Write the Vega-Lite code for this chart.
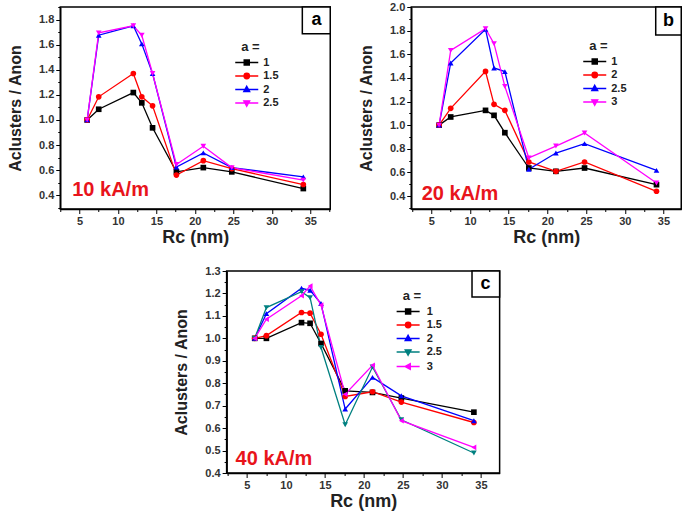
{
  "$schema": "https://vega.github.io/schema/vega-lite/v6.json",
  "padding": {"left": 6, "top": 0, "right": 0, "bottom": 0},
  "background": "white",
  "center": true,
  "spacing": 16,
  "config": {
    "view": {"stroke": "black", "strokeWidth": 1.5},
    "axis": {"grid": false, "domainColor": "black", "domainWidth": 1.5, "tickColor": "black", "tickWidth": 1, "tickSize": 4,
      "labelFont": "Liberation Sans", "labelFontWeight": "bold", "labelFontSize": 11, "labelColor": "#333", "labelOverlap": false,
      "titleFont": "Liberation Sans", "titleFontWeight": "bold", "titleColor": "#222"},
    "legend": {"labelFont": "Liberation Sans", "labelFontWeight": "bold", "labelFontSize": 11, "labelColor": "#222",
      "titleFont": "Liberation Sans", "titleFontWeight": "bold", "titleFontSize": 13, "titleColor": "#222", "padding": 0, "rowPadding": 1.5, "titlePadding": 3,
      "symbolSize": 30, "symbolStrokeWidth": 1.3, "symbolOpacity": 1}
  },
  "resolve": {"scale": {"x": "independent", "y": "independent", "stroke": "independent", "fill": "independent", "shape": "independent"}},
  "vconcat": [
    {
      "hconcat": [
        {
          "width": 270, "height": 202,
          "data": {"values": [
            {"Rc": 6, "r": 1.0, "a": "1"}, {"Rc": 7.5, "r": 1.085, "a": "1"}, {"Rc": 12, "r": 1.218, "a": "1"}, {"Rc": 13.1, "r": 1.136, "a": "1"}, {"Rc": 14.5, "r": 0.937, "a": "1"}, {"Rc": 17.6, "r": 0.586, "a": "1"}, {"Rc": 21.1, "r": 0.62, "a": "1"}, {"Rc": 24.8, "r": 0.586, "a": "1"}, {"Rc": 34.1, "r": 0.453, "a": "1"},
            {"Rc": 6, "r": 1.0, "a": "1.5"}, {"Rc": 7.5, "r": 1.184, "a": "1.5"}, {"Rc": 12, "r": 1.37, "a": "1.5"}, {"Rc": 13.1, "r": 1.184, "a": "1.5"}, {"Rc": 14.5, "r": 1.112, "a": "1.5"}, {"Rc": 17.6, "r": 0.56, "a": "1.5"}, {"Rc": 21.1, "r": 0.675, "a": "1.5"}, {"Rc": 24.8, "r": 0.612, "a": "1.5"}, {"Rc": 34.1, "r": 0.485, "a": "1.5"},
            {"Rc": 6, "r": 1.0, "a": "2"}, {"Rc": 7.5, "r": 1.675, "a": "2"}, {"Rc": 12, "r": 1.75, "a": "2"}, {"Rc": 13.1, "r": 1.606, "a": "2"}, {"Rc": 14.5, "r": 1.37, "a": "2"}, {"Rc": 17.6, "r": 0.625, "a": "2"}, {"Rc": 21.1, "r": 0.737, "a": "2"}, {"Rc": 24.8, "r": 0.62, "a": "2"}, {"Rc": 34.1, "r": 0.546, "a": "2"},
            {"Rc": 6, "r": 1.0, "a": "2.5"}, {"Rc": 7.5, "r": 1.694, "a": "2.5"}, {"Rc": 12, "r": 1.75, "a": "2.5"}, {"Rc": 13.1, "r": 1.675, "a": "2.5"}, {"Rc": 14.5, "r": 1.37, "a": "2.5"}, {"Rc": 17.6, "r": 0.645, "a": "2.5"}, {"Rc": 21.1, "r": 0.79, "a": "2.5"}, {"Rc": 24.8, "r": 0.62, "a": "2.5"}, {"Rc": 34.1, "r": 0.52, "a": "2.5"}
          ]},
          "resolve": {"axis": {"x": "independent", "y": "independent"}, "scale": {"stroke": "independent", "fill": "independent", "shape": "independent"}, "legend": {"stroke": "independent", "fill": "independent", "shape": "independent"}},
          "layer": [
            {
              "mark": {"type": "line", "strokeWidth": 1.3},
              "encoding": {
                "x": {"field": "Rc", "type": "quantitative", "scale": {"domain": [2.5, 37.6], "nice": false, "zero": false},
                  "axis": {"orient": "bottom", "values": [2.5, 5, 7.5, 10, 12.5, 15, 17.5, 20, 22.5, 25, 27.5, 30, 32.5, 35, 37.5], "labelExpr": "datum.value % 5 == 0 ? format(datum.value, 'd') : ''",
                    "tickSize": {"condition": {"test": "datum.value % 5 != 0", "value": 2.5}, "value": 4.5}, "title": "Rc (nm)", "titleFontSize": 18, "titlePadding": 2}},
                "y": {"field": "r", "type": "quantitative", "scale": {"domain": [0.29, 1.9], "nice": false, "zero": false},
                  "axis": {"orient": "left", "values": [0.3, 0.4, 0.5, 0.6, 0.7, 0.8, 0.9, 1.0, 1.1, 1.2, 1.3, 1.4, 1.5, 1.6, 1.7, 1.8, 1.9], "labelExpr": "round(datum.value*10) % 2 == 0 ? format(datum.value, '.1f') : ''",
                    "tickSize": {"condition": {"test": "round(datum.value*10) % 2 == 1", "value": 2.5}, "value": 4.5}, "title": "Aclusters / Anon", "titleFontSize": 16, "titlePadding": 15}},
                "stroke": {"field": "a", "type": "nominal", "scale": {"domain": ["1", "1.5", "2", "2.5"], "range": ["#000000", "#ff0000", "#0000ff", "#ff00ff"]}, "legend": null}
              }
            },
            {
              "mark": {"type": "point", "filled": true, "size": 32, "opacity": 1},
              "encoding": {
                "x": {"field": "Rc", "type": "quantitative", "axis": null},
                "y": {"field": "r", "type": "quantitative", "axis": null},
                "fill": {"field": "a", "type": "nominal", "scale": {"domain": ["1", "1.5", "2", "2.5"], "range": ["#000000", "#ff0000", "#0000ff", "#ff00ff"]}, "legend": null},
                "shape": {"field": "a", "type": "nominal", "scale": {"domain": ["1", "1.5", "2", "2.5"], "range": ["square", "circle", "triangle-up", "triangle-down"]}, "legend": null}
              }
            },
            {
              "data": {"values": []},
              "mark": {"type": "point", "filled": true, "opacity": 1},
              "encoding": {
                "x": {"field": "Rc", "type": "quantitative", "axis": null},
                "y": {"field": "r", "type": "quantitative", "axis": null},
                "fill": {"field": "a", "type": "nominal", "scale": {"domain": ["1", "1.5", "2", "2.5"], "range": ["#000000", "#ff0000", "#0000ff", "#ff00ff"]},
                  "legend": {"title": "a =", "orient": "none", "legendX": 181, "legendY": 34, "labelOffset": 11}},
                "stroke": {"field": "a", "type": "nominal", "scale": {"domain": ["1", "1.5", "2", "2.5"], "range": ["#000000", "#ff0000", "#0000ff", "#ff00ff"]},
                  "legend": {"title": "a =", "orient": "none", "legendX": 181, "legendY": 34, "labelOffset": 11}},
                "shape": {"field": "a", "type": "nominal", "scale": {"domain": ["1", "1.5", "2", "2.5"], "range": ["M-4.2,0H4.2M-0.95,-0.95H0.95V0.95H-0.95Z", "M-4.2,0H4.2M1,0A1,1,0,1,1,-1,0A1,1,0,1,1,1,0Z", "M-4.2,0H4.2M0,-1.2L1.1,0.8H-1.1Z", "M-4.2,0H4.2M0,1.2L1.1,-0.8H-1.1Z"]},
                  "legend": {"title": "a =", "orient": "none", "legendX": 181, "legendY": 34, "labelOffset": 11}}
              }
            },
            {
              "data": {"values": [{}]},
              "mark": {"type": "rect", "fill": "white", "stroke": "black", "strokeWidth": 1.5},
              "encoding": {"x": {"datum": 33.97, "axis": null}, "x2": {"datum": 37.6}, "y": {"datum": 1.9, "axis": null}, "y2": {"datum": 1.686}}
            },
            {
              "data": {"values": [{}]},
              "mark": {"type": "text", "text": "a", "font": "Liberation Sans", "fontWeight": "bold", "fontSize": 18, "align": "center", "baseline": "middle", "color": "black"},
              "encoding": {"x": {"datum": 35.8, "axis": null}, "y": {"datum": 1.794, "axis": null}}
            },
            {
              "data": {"values": [{}]},
              "mark": {"type": "text", "text": "10 kA/m", "font": "Liberation Sans", "fontWeight": "bold", "fontSize": 20, "align": "left", "baseline": "middle", "color": "#e8141b"},
              "encoding": {"x": {"datum": 4.06, "axis": null}, "y": {"datum": 0.442, "axis": null}}
            }
          ]
        },
        {
          "width": 270, "height": 202,
          "data": {"values": [
            {"Rc": 6, "r": 1.0, "a": "1"}, {"Rc": 7.5, "r": 1.069, "a": "1"}, {"Rc": 12, "r": 1.125, "a": "1"}, {"Rc": 13.1, "r": 1.083, "a": "1"}, {"Rc": 14.5, "r": 0.936, "a": "1"}, {"Rc": 17.6, "r": 0.637, "a": "1"}, {"Rc": 21.1, "r": 0.609, "a": "1"}, {"Rc": 24.8, "r": 0.637, "a": "1"}, {"Rc": 34.1, "r": 0.496, "a": "1"},
            {"Rc": 6, "r": 1.0, "a": "2"}, {"Rc": 7.5, "r": 1.142, "a": "2"}, {"Rc": 12, "r": 1.455, "a": "2"}, {"Rc": 13.1, "r": 1.176, "a": "2"}, {"Rc": 14.5, "r": 1.125, "a": "2"}, {"Rc": 17.6, "r": 0.688, "a": "2"}, {"Rc": 21.1, "r": 0.609, "a": "2"}, {"Rc": 24.8, "r": 0.688, "a": "2"}, {"Rc": 34.1, "r": 0.44, "a": "2"},
            {"Rc": 6, "r": 1.0, "a": "2.5"}, {"Rc": 7.5, "r": 1.526, "a": "2.5"}, {"Rc": 12, "r": 1.811, "a": "2.5"}, {"Rc": 13.1, "r": 1.484, "a": "2.5"}, {"Rc": 14.5, "r": 1.453, "a": "2.5"}, {"Rc": 17.6, "r": 0.626, "a": "2.5"}, {"Rc": 21.1, "r": 0.764, "a": "2.5"}, {"Rc": 24.8, "r": 0.843, "a": "2.5"}, {"Rc": 34.1, "r": 0.617, "a": "2.5"},
            {"Rc": 6, "r": 1.0, "a": "3"}, {"Rc": 7.5, "r": 1.633, "a": "3"}, {"Rc": 12, "r": 1.817, "a": "3"}, {"Rc": 13.1, "r": 1.69, "a": "3"}, {"Rc": 14.5, "r": 1.328, "a": "3"}, {"Rc": 17.6, "r": 0.722, "a": "3"}, {"Rc": 21.1, "r": 0.823, "a": "3"}, {"Rc": 24.8, "r": 0.933, "a": "3"}, {"Rc": 34.1, "r": 0.51, "a": "3"}
          ]},
          "resolve": {"axis": {"x": "independent", "y": "independent"}, "scale": {"stroke": "independent", "fill": "independent", "shape": "independent"}, "legend": {"stroke": "independent", "fill": "independent", "shape": "independent"}},
          "layer": [
            {
              "mark": {"type": "line", "strokeWidth": 1.3},
              "encoding": {
                "x": {"field": "Rc", "type": "quantitative", "scale": {"domain": [2.4, 37.3], "nice": false, "zero": false},
                  "axis": {"orient": "bottom", "values": [2.5, 5, 7.5, 10, 12.5, 15, 17.5, 20, 22.5, 25, 27.5, 30, 32.5, 35], "labelExpr": "datum.value % 5 == 0 ? format(datum.value, 'd') : ''",
                    "tickSize": {"condition": {"test": "datum.value % 5 != 0", "value": 2.5}, "value": 4.5}, "title": "Rc (nm)", "titleFontSize": 18, "titlePadding": 2}},
                "y": {"field": "r", "type": "quantitative", "scale": {"domain": [0.29, 2.0], "nice": false, "zero": false},
                  "axis": {"orient": "left", "values": [0.3, 0.4, 0.5, 0.6, 0.7, 0.8, 0.9, 1.0, 1.1, 1.2, 1.3, 1.4, 1.5, 1.6, 1.7, 1.8, 1.9, 2.0], "labelExpr": "round(datum.value*10) % 2 == 0 ? format(datum.value, '.1f') : ''",
                    "tickSize": {"condition": {"test": "round(datum.value*10) % 2 == 1", "value": 2.5}, "value": 4.5}, "title": "Aclusters / Anon", "titleFontSize": 16, "titlePadding": 15}},
                "stroke": {"field": "a", "type": "nominal", "scale": {"domain": ["1", "2", "2.5", "3"], "range": ["#000000", "#ff0000", "#0000ff", "#ff00ff"]}, "legend": null}
              }
            },
            {
              "mark": {"type": "point", "filled": true, "size": 32, "opacity": 1},
              "encoding": {
                "x": {"field": "Rc", "type": "quantitative", "axis": null},
                "y": {"field": "r", "type": "quantitative", "axis": null},
                "fill": {"field": "a", "type": "nominal", "scale": {"domain": ["1", "2", "2.5", "3"], "range": ["#000000", "#ff0000", "#0000ff", "#ff00ff"]}, "legend": null},
                "shape": {"field": "a", "type": "nominal", "scale": {"domain": ["1", "2", "2.5", "3"], "range": ["square", "circle", "triangle-up", "triangle-down"]}, "legend": null}
              }
            },
            {
              "data": {"values": []},
              "mark": {"type": "point", "filled": true, "opacity": 1},
              "encoding": {
                "x": {"field": "Rc", "type": "quantitative", "axis": null},
                "y": {"field": "r", "type": "quantitative", "axis": null},
                "fill": {"field": "a", "type": "nominal", "scale": {"domain": ["1", "2", "2.5", "3"], "range": ["#000000", "#ff0000", "#0000ff", "#ff00ff"]},
                  "legend": {"title": "a =", "orient": "none", "legendX": 178, "legendY": 33, "labelOffset": 11}},
                "stroke": {"field": "a", "type": "nominal", "scale": {"domain": ["1", "2", "2.5", "3"], "range": ["#000000", "#ff0000", "#0000ff", "#ff00ff"]},
                  "legend": {"title": "a =", "orient": "none", "legendX": 178, "legendY": 33, "labelOffset": 11}},
                "shape": {"field": "a", "type": "nominal", "scale": {"domain": ["1", "2", "2.5", "3"], "range": ["M-4.2,0H4.2M-0.95,-0.95H0.95V0.95H-0.95Z", "M-4.2,0H4.2M1,0A1,1,0,1,1,-1,0A1,1,0,1,1,1,0Z", "M-4.2,0H4.2M0,-1.2L1.1,0.8H-1.1Z", "M-4.2,0H4.2M0,1.2L1.1,-0.8H-1.1Z"]},
                  "legend": {"title": "a =", "orient": "none", "legendX": 178, "legendY": 33, "labelOffset": 11}}
              }
            },
            {
              "data": {"values": [{}]},
              "mark": {"type": "rect", "fill": "white", "stroke": "black", "strokeWidth": 1.5},
              "encoding": {"x": {"datum": 34.0, "axis": null}, "x2": {"datum": 37.3}, "y": {"datum": 2.0, "axis": null}, "y2": {"datum": 1.763}}
            },
            {
              "data": {"values": [{}]},
              "mark": {"type": "text", "text": "b", "font": "Liberation Sans", "fontWeight": "bold", "fontSize": 18, "align": "center", "baseline": "middle", "color": "black"},
              "encoding": {"x": {"datum": 35.65, "axis": null}, "y": {"datum": 1.88, "axis": null}}
            },
            {
              "data": {"values": [{}]},
              "mark": {"type": "text", "text": "20 kA/m", "font": "Liberation Sans", "fontWeight": "bold", "fontSize": 20, "align": "left", "baseline": "middle", "color": "#e8141b"},
              "encoding": {"x": {"datum": 3.75, "axis": null}, "y": {"datum": 0.42, "axis": null}}
            }
          ]
        }
      ],
      "spacing": 25,
      "resolve": {"scale": {"x": "independent", "y": "independent", "stroke": "independent", "fill": "independent", "shape": "independent"}}
    },
    {
      "width": 273, "height": 202,
      "data": {"values": [
        {"Rc": 6, "r": 1.0, "a": "1"}, {"Rc": 7.5, "r": 1.0, "a": "1"}, {"Rc": 12, "r": 1.07, "a": "1"}, {"Rc": 13.1, "r": 1.067, "a": "1"}, {"Rc": 14.5, "r": 0.977, "a": "1"}, {"Rc": 17.6, "r": 0.766, "a": "1"}, {"Rc": 21.1, "r": 0.759, "a": "1"}, {"Rc": 24.8, "r": 0.734, "a": "1"}, {"Rc": 34.1, "r": 0.671, "a": "1"},
        {"Rc": 6, "r": 1.0, "a": "1.5"}, {"Rc": 7.5, "r": 1.012, "a": "1.5"}, {"Rc": 12, "r": 1.115, "a": "1.5"}, {"Rc": 13.1, "r": 1.112, "a": "1.5"}, {"Rc": 14.5, "r": 1.018, "a": "1.5"}, {"Rc": 17.6, "r": 0.741, "a": "1.5"}, {"Rc": 21.1, "r": 0.762, "a": "1.5"}, {"Rc": 24.8, "r": 0.716, "a": "1.5"}, {"Rc": 34.1, "r": 0.625, "a": "1.5"},
        {"Rc": 6, "r": 1.0, "a": "2"}, {"Rc": 7.5, "r": 1.11, "a": "2"}, {"Rc": 12, "r": 1.223, "a": "2"}, {"Rc": 13.1, "r": 1.214, "a": "2"}, {"Rc": 14.5, "r": 1.155, "a": "2"}, {"Rc": 17.6, "r": 0.685, "a": "2"}, {"Rc": 21.1, "r": 0.826, "a": "2"}, {"Rc": 24.8, "r": 0.744, "a": "2"}, {"Rc": 34.1, "r": 0.633, "a": "2"},
        {"Rc": 6, "r": 1.0, "a": "2.5"}, {"Rc": 7.5, "r": 1.137, "a": "2.5"}, {"Rc": 12, "r": 1.208, "a": "2.5"}, {"Rc": 13.1, "r": 1.181, "a": "2.5"}, {"Rc": 14.5, "r": 0.959, "a": "2.5"}, {"Rc": 17.6, "r": 0.615, "a": "2.5"}, {"Rc": 21.1, "r": 0.872, "a": "2.5"}, {"Rc": 24.8, "r": 0.637, "a": "2.5"}, {"Rc": 34.1, "r": 0.489, "a": "2.5"},
        {"Rc": 6, "r": 1.0, "a": "3"}, {"Rc": 7.5, "r": 1.085, "a": "3"}, {"Rc": 12, "r": 1.19, "a": "3"}, {"Rc": 13.1, "r": 1.233, "a": "3"}, {"Rc": 14.5, "r": 1.148, "a": "3"}, {"Rc": 17.6, "r": 0.751, "a": "3"}, {"Rc": 21.1, "r": 0.88, "a": "3"}, {"Rc": 24.8, "r": 0.633, "a": "3"}, {"Rc": 34.1, "r": 0.514, "a": "3"}
      ]},
      "resolve": {"axis": {"x": "independent", "y": "independent"}, "scale": {"stroke": "independent", "fill": "independent", "shape": "independent"}, "legend": {"stroke": "independent", "fill": "independent", "shape": "independent"}},
      "layer": [
        {
          "mark": {"type": "line", "strokeWidth": 1.3},
          "encoding": {
            "x": {"field": "Rc", "type": "quantitative", "scale": {"domain": [2.4, 37.4], "nice": false, "zero": false},
              "axis": {"orient": "bottom", "values": [2.5, 5, 7.5, 10, 12.5, 15, 17.5, 20, 22.5, 25, 27.5, 30, 32.5, 35], "labelExpr": "datum.value % 5 == 0 ? format(datum.value, 'd') : ''",
                "tickSize": {"condition": {"test": "datum.value % 5 != 0", "value": 2.5}, "value": 4.5}, "title": "Rc (nm)", "titleFontSize": 18, "titlePadding": 2}},
            "y": {"field": "r", "type": "quantitative", "scale": {"domain": [0.4, 1.3], "nice": false, "zero": false},
              "axis": {"orient": "left", "values": [0.4, 0.45, 0.5, 0.55, 0.6, 0.65, 0.7, 0.75, 0.8, 0.85, 0.9, 0.95, 1.0, 1.05, 1.1, 1.15, 1.2, 1.25, 1.3], "labelExpr": "round(datum.value*20) % 2 == 0 ? format(datum.value, '.1f') : ''",
                "tickSize": {"condition": {"test": "round(datum.value*20) % 2 == 1", "value": 2.5}, "value": 4.5}, "title": "Aclusters / Anon", "titleFontSize": 16, "titlePadding": 15}},
            "stroke": {"field": "a", "type": "nominal", "scale": {"domain": ["1", "1.5", "2", "2.5", "3"], "range": ["#000000", "#ff0000", "#0000ff", "#008080", "#ff00ff"]}, "legend": null}
          }
        },
        {
          "mark": {"type": "point", "filled": true, "size": 32, "opacity": 1},
          "encoding": {
            "x": {"field": "Rc", "type": "quantitative", "axis": null},
            "y": {"field": "r", "type": "quantitative", "axis": {"orient": "right", "labels": false, "ticks": false, "domain": false, "title": null, "minExtent": 16, "maxExtent": 16}},
            "fill": {"field": "a", "type": "nominal", "scale": {"domain": ["1", "1.5", "2", "2.5", "3"], "range": ["#000000", "#ff0000", "#0000ff", "#008080", "#ff00ff"]}, "legend": null},
            "shape": {"field": "a", "type": "nominal", "scale": {"domain": ["1", "1.5", "2", "2.5", "3"], "range": ["square", "circle", "triangle-up", "triangle-down", "triangle-left"]}, "legend": null}
          }
        },
        {
          "data": {"values": []},
          "mark": {"type": "point", "filled": true, "opacity": 1},
          "encoding": {
            "x": {"field": "Rc", "type": "quantitative", "axis": null},
            "y": {"field": "r", "type": "quantitative", "axis": null},
            "fill": {"field": "a", "type": "nominal", "scale": {"domain": ["1", "1.5", "2", "2.5", "3"], "range": ["#000000", "#ff0000", "#0000ff", "#008080", "#ff00ff"]},
              "legend": {"title": "a =", "orient": "none", "legendX": 176, "legendY": 19, "labelOffset": 13}},
            "stroke": {"field": "a", "type": "nominal", "scale": {"domain": ["1", "1.5", "2", "2.5", "3"], "range": ["#000000", "#ff0000", "#0000ff", "#008080", "#ff00ff"]},
              "legend": {"title": "a =", "orient": "none", "legendX": 176, "legendY": 19, "labelOffset": 13}},
            "shape": {"field": "a", "type": "nominal", "scale": {"domain": ["1", "1.5", "2", "2.5", "3"], "range": ["M-4.2,0H4.2M-0.95,-0.95H0.95V0.95H-0.95Z", "M-4.2,0H4.2M1,0A1,1,0,1,1,-1,0A1,1,0,1,1,1,0Z", "M-4.2,0H4.2M0,-1.2L1.1,0.8H-1.1Z", "M-4.2,0H4.2M0,1.2L1.1,-0.8H-1.1Z", "M-4.2,0H4.2M-1.2,0L0.8,-1.1V1.1Z"]},
              "legend": {"title": "a =", "orient": "none", "legendX": 176, "legendY": 19, "labelOffset": 13}}
          }
        },
        {
          "data": {"values": [{}]},
          "mark": {"type": "rect", "fill": "white", "stroke": "black", "strokeWidth": 1.5},
          "encoding": {"x": {"datum": 33.86, "axis": null}, "x2": {"datum": 37.4}, "y": {"datum": 1.3, "axis": null}, "y2": {"datum": 1.184}}
        },
        {
          "data": {"values": [{}]},
          "mark": {"type": "text", "text": "c", "font": "Liberation Sans", "fontWeight": "bold", "fontSize": 18, "align": "center", "baseline": "middle", "color": "black"},
          "encoding": {"x": {"datum": 35.6, "axis": null}, "y": {"datum": 1.242, "axis": null}}
        },
        {
          "data": {"values": [{}]},
          "mark": {"type": "text", "text": "40 kA/m", "font": "Liberation Sans", "fontWeight": "bold", "fontSize": 20, "align": "left", "baseline": "middle", "color": "#e8141b"},
          "encoding": {"x": {"datum": 3.55, "axis": null}, "y": {"datum": 0.463, "axis": null}}
        }
      ]
    }
  ]
}
